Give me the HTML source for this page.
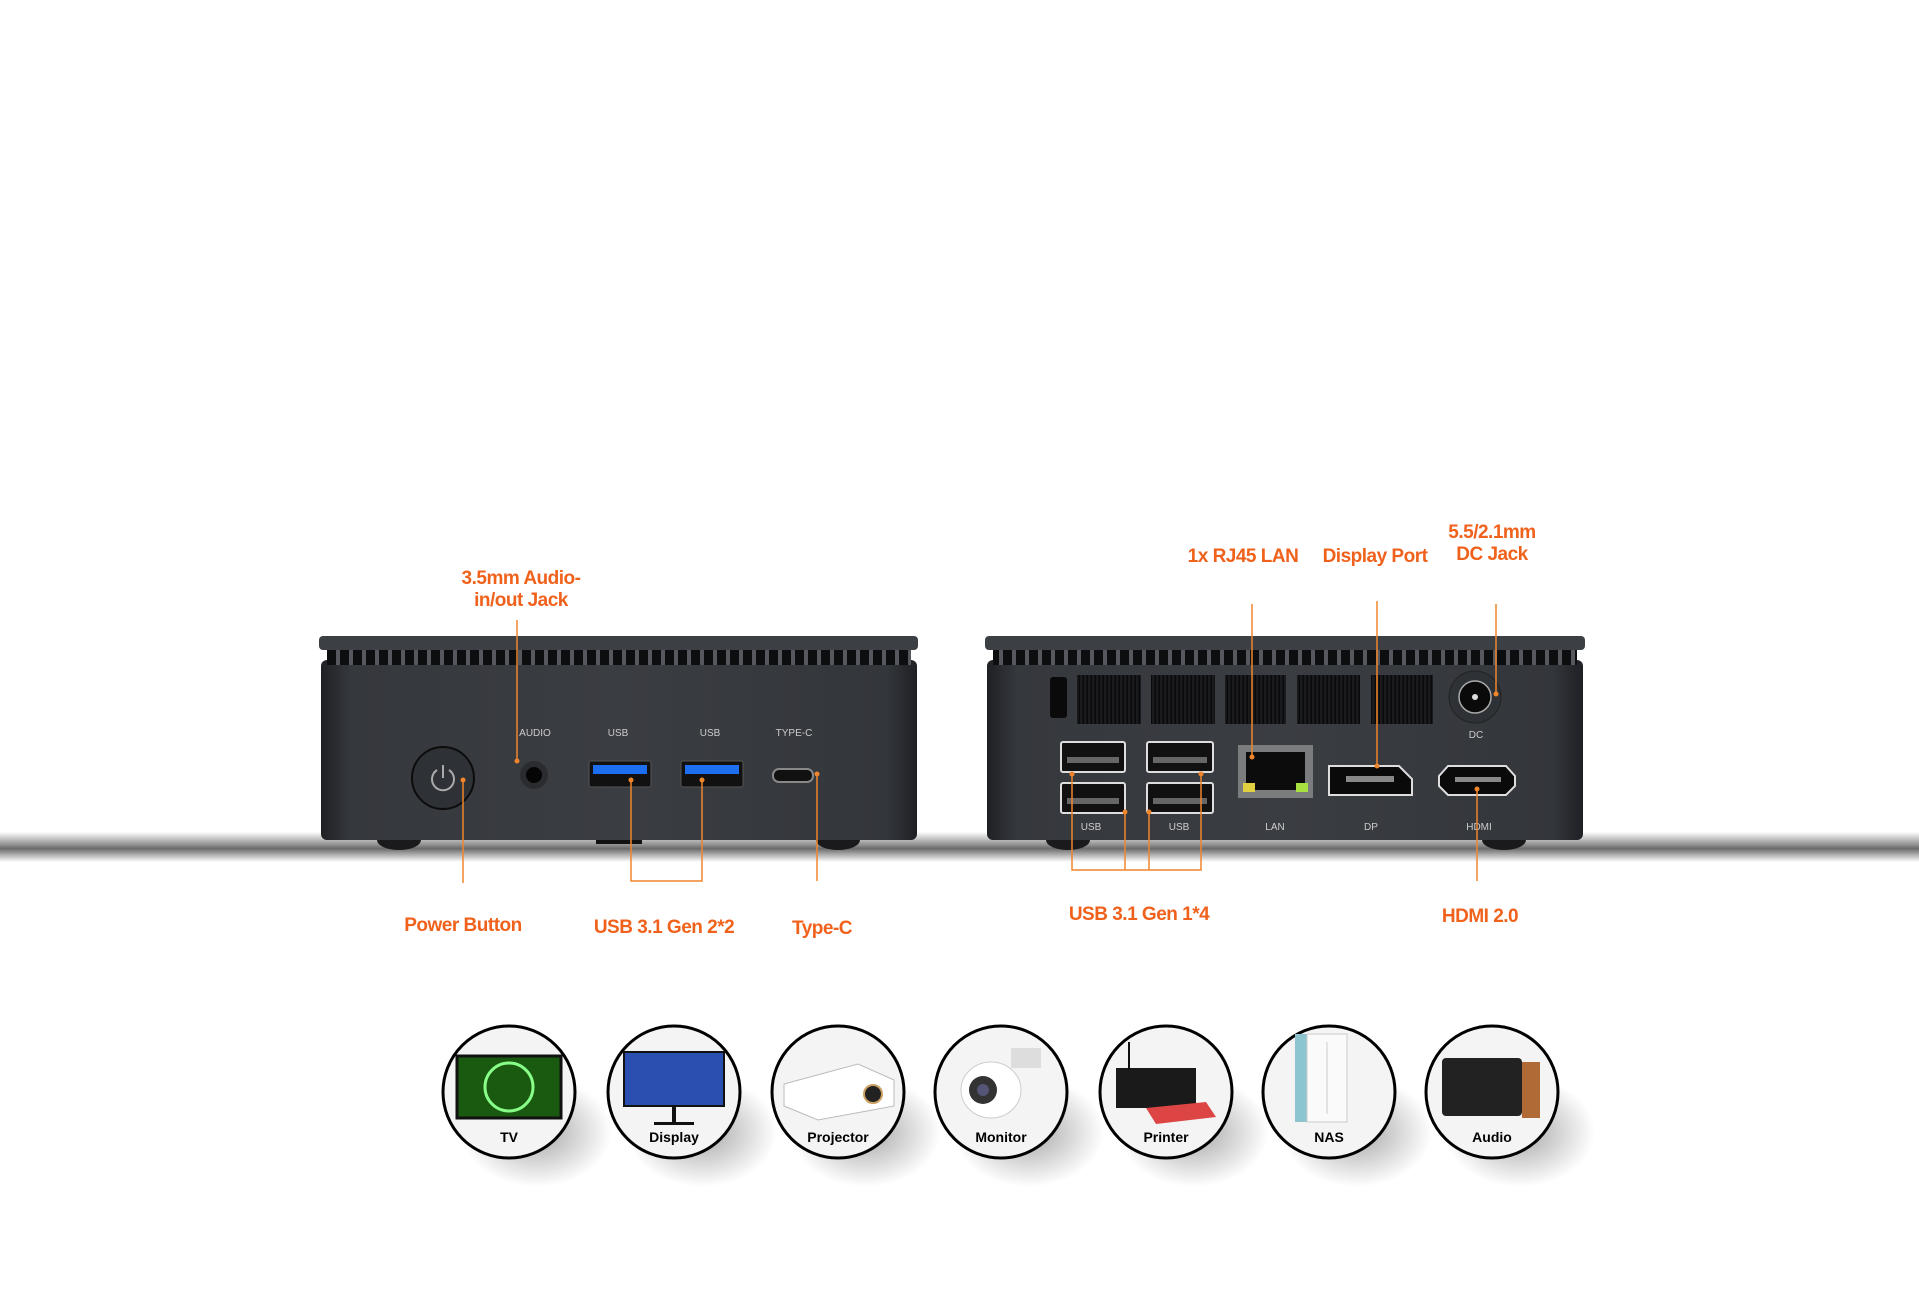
<!DOCTYPE html>
<html><head><meta charset="utf-8"><style>
html,body{margin:0;padding:0;background:#fff;}
body{width:1919px;height:1303px;overflow:hidden;position:relative;font-family:"Liberation Sans",sans-serif;}
.l{position:absolute;color:#f0621c;font-size:19px;font-weight:bold;text-align:center;white-space:nowrap;transform:translateX(-50%);line-height:22px;letter-spacing:-0.5px}
</style></head><body>
<svg width="1919" height="1303" style="position:absolute;left:0;top:0">
<defs>
<linearGradient id="floor" x1="0" y1="0" x2="0" y2="1">
<stop offset="0" stop-color="#fff"/><stop offset="0.45" stop-color="#8a8a8a"/><stop offset="0.55" stop-color="#6a6a6a"/><stop offset="1" stop-color="#fff"/></linearGradient>
<linearGradient id="body" x1="0" y1="0" x2="1" y2="0">
<stop offset="0" stop-color="#1e2024"/><stop offset="0.05" stop-color="#35383d"/><stop offset="0.5" stop-color="#3a3d42"/><stop offset="0.95" stop-color="#33363b"/><stop offset="1" stop-color="#1e2024"/></linearGradient>
<pattern id="vent" width="13" height="14" patternUnits="userSpaceOnUse"><rect width="13" height="14" fill="#55585c"/><rect x="2" width="9" height="14" fill="#0d0e10"/></pattern>
<pattern id="grill" width="4" height="10" patternUnits="userSpaceOnUse"><rect width="4" height="10" fill="#1a1b1e"/><rect x="2.5" width="1.5" height="10" fill="#0a0a0b"/></pattern>
<radialGradient id="sh" cx="0.5" cy="0.5" r="0.5"><stop offset="0" stop-color="#000" stop-opacity="0.35"/><stop offset="1" stop-color="#000" stop-opacity="0"/></radialGradient>
</defs>
<rect x="0" y="832" width="1919" height="30" fill="url(#floor)"/>
<!-- left device -->
<ellipse cx="399" cy="840" rx="22" ry="10" fill="#1a1a1c"/><ellipse cx="838" cy="840" rx="22" ry="10" fill="#1a1a1c"/>
<rect x="596" y="836" width="46" height="8" fill="#111"/>
<rect x="321" y="660" width="596" height="180" rx="6" fill="url(#body)"/>
<rect x="327" y="649" width="584" height="16" fill="url(#vent)"/>
<rect x="319" y="636" width="599" height="14" rx="4" fill="#3c3f44"/>
<circle cx="443" cy="778" r="31" fill="#2e3135" stroke="#0c0c0d" stroke-width="2"/>
<path d="M437 770 a11 11 0 1 0 12 0" fill="none" stroke="#aaa" stroke-width="2"/><line x1="443" y1="765" x2="443" y2="778" stroke="#aaa" stroke-width="2"/>
<circle cx="534" cy="775" r="14" fill="#2a2c30"/><circle cx="534" cy="775" r="8" fill="#050505"/>
<rect x="589" y="761" width="62" height="26" rx="2" fill="#111" stroke="#555"/><rect x="593" y="765" width="54" height="9" fill="#1e6ef0"/>
<rect x="681" y="761" width="62" height="26" rx="2" fill="#111" stroke="#555"/><rect x="685" y="765" width="54" height="9" fill="#1e6ef0"/>
<rect x="773" y="769" width="40" height="13" rx="6" fill="#111" stroke="#888" stroke-width="2"/>
<g font-size="10" fill="#ccc" text-anchor="middle"><text x="535" y="736">AUDIO</text><text x="618" y="736">USB</text><text x="710" y="736">USB</text><text x="794" y="736">TYPE-C</text></g>
<!-- right device -->
<ellipse cx="1068" cy="840" rx="22" ry="10" fill="#1a1a1c"/><ellipse cx="1504" cy="840" rx="22" ry="10" fill="#1a1a1c"/>
<rect x="987" y="660" width="596" height="180" rx="6" fill="url(#body)"/>
<rect x="993" y="649" width="584" height="16" fill="url(#vent)"/>
<rect x="985" y="636" width="600" height="14" rx="4" fill="#3c3f44"/>
<rect x="1050" y="677" width="17" height="41" rx="3" fill="#0a0a0a"/>
<g fill="url(#grill)"><rect x="1077" y="675" width="64" height="49"/><rect x="1151" y="675" width="64" height="49"/><rect x="1225" y="675" width="61" height="49"/><rect x="1297" y="675" width="63" height="49"/><rect x="1371" y="675" width="62" height="49"/></g>
<circle cx="1475" cy="697" r="26" fill="#2e3135" stroke="#222"/><circle cx="1475" cy="697" r="16" fill="#0a0a0a" stroke="#aaa" stroke-width="1.5"/><circle cx="1475" cy="697" r="3" fill="#ddd"/>
<g fill="#111" stroke="#ddd" stroke-width="2"><rect x="1061" y="742" width="64" height="30" rx="2"/><rect x="1147" y="742" width="66" height="30" rx="2"/><rect x="1061" y="783" width="64" height="30" rx="2"/><rect x="1147" y="783" width="66" height="30" rx="2"/></g>
<g fill="#666"><rect x="1067" y="757" width="52" height="6"/><rect x="1153" y="757" width="54" height="6"/><rect x="1067" y="798" width="52" height="6"/><rect x="1153" y="798" width="54" height="6"/></g>
<rect x="1238" y="745" width="75" height="53" fill="#7a7c7e"/><rect x="1246" y="752" width="59" height="38" fill="#0c0c0c"/><rect x="1243" y="783" width="12" height="9" fill="#e0d040"/><rect x="1296" y="783" width="12" height="9" fill="#a8e040"/>
<path d="M1329 766 h70 l13 13 v16 h-83z" fill="#0a0a0a" stroke="#ddd" stroke-width="2"/><rect x="1346" y="776" width="48" height="6" fill="#888"/>
<path d="M1448 766 h58 l9 10 v10 l-9 9 h-58 l-9 -9 v-10z" fill="#0a0a0a" stroke="#ddd" stroke-width="2"/><rect x="1455" y="777" width="46" height="5" fill="#888"/>
<g font-size="10" fill="#ccc" text-anchor="middle"><text x="1476" y="738">DC</text><text x="1091" y="830">USB</text><text x="1179" y="830">USB</text><text x="1275" y="830">LAN</text><text x="1371" y="830">DP</text><text x="1479" y="830">HDMI</text></g>
<!-- orange leaders -->
<g stroke="#f0862c" stroke-width="1.5" fill="none">
<path d="M517 620 V761"/><path d="M463 780 V883"/><path d="M631 780 V881 H702 V780"/><path d="M817 774 V881"/>
<path d="M1252 604 V757"/><path d="M1377 601 V766"/><path d="M1496 604 V694"/><path d="M1477 789 V881"/>
<path d="M1072 774 V870 H1201 V774"/><path d="M1125 812 V870"/><path d="M1149 812 V870"/>
</g>
<g fill="#f0862c"><circle cx="517" cy="761" r="2.5"/><circle cx="463" cy="780" r="2.5"/><circle cx="631" cy="780" r="2.5"/><circle cx="702" cy="780" r="2.5"/><circle cx="817" cy="774" r="2.5"/><circle cx="1252" cy="757" r="2.5"/><circle cx="1377" cy="766" r="2.5"/><circle cx="1496" cy="694" r="2.5"/><circle cx="1477" cy="789" r="2.5"/><circle cx="1072" cy="774" r="2.5"/><circle cx="1201" cy="774" r="2.5"/><circle cx="1125" cy="812" r="2.5"/><circle cx="1149" cy="812" r="2.5"/></g>
<!-- circles -->
<g>
<g transform="translate(509,1092)"><ellipse cx="28" cy="40" rx="75" ry="55" fill="url(#sh)"/><circle r="66" fill="#f4f4f4" stroke="#000" stroke-width="3"/><rect x="-52" y="-36" width="104" height="62" fill="#1a5a10" stroke="#111" stroke-width="3"/><circle cx="0" cy="-5" r="24" fill="none" stroke="#8f8" stroke-width="3"/><text y="50" font-size="14" font-weight="bold" text-anchor="middle">TV</text></g>
<g transform="translate(674,1092)"><ellipse cx="28" cy="40" rx="75" ry="55" fill="url(#sh)"/><circle r="66" fill="#f4f4f4" stroke="#000" stroke-width="3"/><rect x="-50" y="-40" width="100" height="54" fill="#2a4fb0" stroke="#111" stroke-width="2"/><rect x="-2" y="14" width="4" height="18" fill="#111"/><rect x="-20" y="30" width="40" height="3" fill="#111"/><text y="50" font-size="14" font-weight="bold" text-anchor="middle">Display</text></g>
<g transform="translate(838,1092)"><ellipse cx="28" cy="40" rx="75" ry="55" fill="url(#sh)"/><circle r="66" fill="#f4f4f4" stroke="#000" stroke-width="3"/><path d="M-54 -8 L20 -28 L56 -12 V14 L-20 28 L-54 14z" fill="#fff" stroke="#bbb"/><circle cx="35" cy="2" r="9" fill="#222" stroke="#c9a060" stroke-width="2"/><text y="50" font-size="14" font-weight="bold" text-anchor="middle">Projector</text></g>
<g transform="translate(1001,1092)"><ellipse cx="28" cy="40" rx="75" ry="55" fill="url(#sh)"/><circle r="66" fill="#f4f4f4" stroke="#000" stroke-width="3"/><rect x="10" y="-44" width="30" height="20" fill="#ddd"/><ellipse cx="-10" cy="-2" rx="30" ry="28" fill="#fff" stroke="#ccc"/><circle cx="-18" cy="-2" r="14" fill="#333"/><circle cx="-18" cy="-2" r="6" fill="#557"/><text y="50" font-size="14" font-weight="bold" text-anchor="middle">Monitor</text></g>
<g transform="translate(1166,1092)"><ellipse cx="28" cy="40" rx="75" ry="55" fill="url(#sh)"/><circle r="66" fill="#f4f4f4" stroke="#000" stroke-width="3"/><rect x="-50" y="-24" width="80" height="40" fill="#1a1a1a"/><path d="M-20 16 L40 10 L50 25 L-10 32z" fill="#d44"/><rect x="-38" y="-50" width="2" height="28" fill="#111"/><text y="50" font-size="14" font-weight="bold" text-anchor="middle">Printer</text></g>
<g transform="translate(1329,1092)"><ellipse cx="28" cy="40" rx="75" ry="55" fill="url(#sh)"/><circle r="66" fill="#f4f4f4" stroke="#000" stroke-width="3"/><rect x="-34" y="-58" width="12" height="88" fill="#8cc4d0"/><rect x="-22" y="-58" width="40" height="88" fill="#fafafa" stroke="#ccc"/><line x1="-2" y1="-50" x2="-2" y2="22" stroke="#ccc"/><text y="50" font-size="14" font-weight="bold" text-anchor="middle">NAS</text></g>
<g transform="translate(1492,1092)"><ellipse cx="28" cy="40" rx="75" ry="55" fill="url(#sh)"/><circle r="66" fill="#f4f4f4" stroke="#000" stroke-width="3"/><rect x="-50" y="-34" width="80" height="58" rx="4" fill="#222"/><rect x="30" y="-30" width="18" height="56" fill="#b06a35"/><text y="50" font-size="14" font-weight="bold" text-anchor="middle">Audio</text></g>
</g>
</svg>
<div class="l" style="left:521px;top:568px">3.5mm Audio-<br>in/out Jack</div>
<div class="l" style="left:463px;top:915px">Power Button</div>
<div class="l" style="left:664px;top:917px">USB 3.1 Gen 2*2</div>
<div class="l" style="left:822px;top:918px">Type-C</div>
<div class="l" style="left:1243px;top:546px">1x RJ45 LAN</div>
<div class="l" style="left:1375px;top:546px">Display Port</div>
<div class="l" style="left:1492px;top:522px">5.5/2.1mm<br>DC Jack</div>
<div class="l" style="left:1139px;top:904px">USB 3.1 Gen 1*4</div>
<div class="l" style="left:1480px;top:906px">HDMI 2.0</div>
</body></html>
